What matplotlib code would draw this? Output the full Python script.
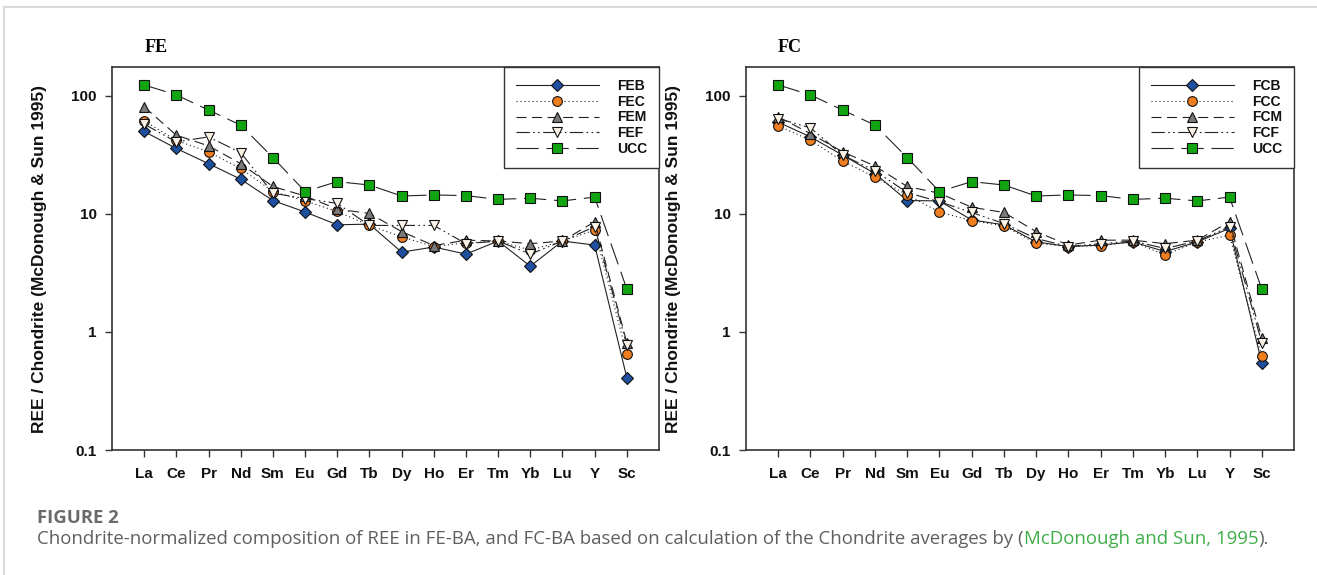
import matplotlib
matplotlib.use('Agg')
import matplotlib.pyplot as plt
from matplotlib.lines import Line2D
from matplotlib.ticker import NullLocator, FixedLocator, FixedFormatter

# ---------------- data ----------------
elements = ['La', 'Ce', 'Pr', 'Nd', 'Sm', 'Eu', 'Gd', 'Tb', 'Dy', 'Ho', 'Er', 'Tm', 'Yb', 'Lu', 'Y', 'Sc']

ucc = [124, 102, 76, 56.6, 30.1, 15.5, 18.8, 17.6, 14.2, 14.5, 14.3, 13.3, 13.6, 12.9, 13.9, 2.31]

# FE panel
feb = [50, 35.9, 26.7, 19.7, 13.0, 10.4, 8.1, 8.2, 4.75, 5.25, 4.57, 5.9, 3.61, 5.9, 5.45, 0.41]
fec = [61.5, 42, 33.6, 24.3, 15.5, 12.9, 10.5, 8.0, 6.4, 5.3, 5.7, 5.9, 4.94, 5.9, 7.3, 0.646]
fem = [81, 46.5, 37.8, 26.7, 17.1, 14.2, 11.0, 10.1, 7.1, 5.4, 6.0, 5.9, 5.6, 5.9, 8.6, 0.81]
fef = [57.7, 40.8, 45, 33.1, 15.0, 13.5, 12.3, 8.0, 8.0, 8.0, 5.6, 5.9, 4.57, 5.9, 7.8, 0.77]

# FC panel
fcb = [60, 45, 31.5, 22, 13.0, 12.9, 8.9, 8.1, 5.8, 5.3, 5.45, 5.8, 4.8, 5.8, 7.55, 0.545]
fcc = [55.8, 42.2, 28, 20.6, 14.5, 10.4, 8.8, 7.9, 5.65, 5.3, 5.4, 5.8, 4.5, 5.8, 6.6, 0.62]
fcm = [66.5, 48, 33.6, 25.5, 17.1, 15.0, 11.4, 10.3, 7.1, 5.45, 6.0, 6.0, 5.6, 6.0, 8.6, 0.895]
fcf = [64.4, 53.7, 31.5, 23.2, 15.2, 12.7, 10.3, 8.3, 6.2, 5.3, 5.6, 5.9, 5.1, 5.9, 7.8, 0.81]

fe_labels = ['FEB', 'FEC', 'FEM', 'FEF', 'UCC']
fc_labels = ['FCB', 'FCC', 'FCM', 'FCF', 'UCC']

yticks = [0.1, 1, 10, 100]
ytick_labels = ['0.1', '1', '10', '100']

# ---------------- styles ----------------
LW = 0.8
styles = [
    dict(marker='D', color='#1f4f9f', dashes=None, ms=6.5),
    dict(marker='o', color='#f07d1e', dashes=(1, 2.6), ms=7),
    dict(marker='^', color='#7a7a7a', dashes=(9, 5), ms=7.5),
    dict(marker='v', color='#fdf4e8', dashes=(12, 3, 1.5, 3, 1.5, 3), ms=7.5),
    dict(marker='s', color='#12a512', dashes=(20, 7), ms=6.5),
]

W, H = 1317, 575
fig = plt.figure(figsize=(W / 100, H / 100), dpi=100)
fig.patch.set_facecolor('white')


def rect(l, t, r, b):
    return [l / W, 1 - b / H, (r - l) / W, (b - t) / H]


tick_font = ['Liberation Sans', 'DejaVu Sans']


def draw_panel(ax, series, labels, title):
    xs = list(range(len(elements)))
    handles = []
    for vals, st, lab in zip(series, styles, labels):
        ln, = ax.plot(xs, vals, color='#222222', lw=LW, marker=st['marker'],
                      markersize=st['ms'], markerfacecolor=st['color'],
                      markeredgecolor='#111111', markeredgewidth=0.8,
                      label=lab)
        if st['dashes'] is not None:
            ln.set_dashes(st['dashes'])
        handles.append(ln)
    ax.set_yscale('log')
    ax.set_ylim(0.1, 176)
    ax.set_xlim(-1, 16)
    ax.yaxis.set_major_locator(FixedLocator(yticks))
    ax.yaxis.set_major_formatter(FixedFormatter(ytick_labels))
    ax.yaxis.set_minor_locator(NullLocator())
    ax.set_xticks(xs)
    ax.set_xticklabels(elements)
    for lab in ax.get_xticklabels() + ax.get_yticklabels():
        lab.set_family(tick_font)
        lab.set_fontweight('bold')
        lab.set_fontsize(11)
        lab.set_color('#111111')
    ax.tick_params(axis='both', which='major', direction='out', length=5,
                   width=1, color='#333333')
    ax.tick_params(axis='x', pad=7)
    ax.tick_params(axis='y', pad=6)
    for sp in ax.spines.values():
        sp.set_linewidth(1.2)
        sp.set_color('#333333')
    ax.set_ylabel('REE / Chondrite (McDonough & Sun 1995)', fontsize=12.5,
                  fontweight='bold', family=['Liberation Sans', 'DejaVu Sans'],
                  color='#111111')
    ax.yaxis.set_label_coords(-0.118, 0.5)
    ax.text(0.08, 1.05, title, transform=ax.transAxes, ha='center', va='center',
            fontsize=13, fontweight='bold', family=['Liberation Serif', 'DejaVu Serif'])
    leg = ax.legend(handles=handles, loc='upper right', bbox_to_anchor=(1, 1),
                    borderaxespad=0, frameon=True, fancybox=False,
                    handlelength=6.0, handletextpad=1.3, borderpad=0.85,
                    labelspacing=0.13, prop=dict(family=['Liberation Sans', 'DejaVu Sans'],
                                                  weight='bold', size=10))
    fr = leg.get_frame()
    fr.set_edgecolor('#333333')
    fr.set_linewidth(1.0)
    fr.set_alpha(1)
    for t in leg.get_texts():
        t.set_color('#111111')


ax1 = fig.add_axes(rect(112, 67, 659, 450))
ax2 = fig.add_axes(rect(746, 67, 1294, 450))
draw_panel(ax1, [feb, fec, fem, fef, ucc], fe_labels, 'FE')
draw_panel(ax2, [fcb, fcc, fcm, fcf, ucc], fc_labels, 'FC')

# frame lines of the figure page
fig.add_artist(Line2D([4 / W, 1], [1 - 7 / H, 1 - 7 / H], transform=fig.transFigure,
                      color='#d9d9d9', lw=1.5))
fig.add_artist(Line2D([4 / W, 4 / W], [0, 1 - 7 / H], transform=fig.transFigure,
                      color='#d9d9d9', lw=1.5))

# caption
cap_font = ['Open Sans', 'DejaVu Sans']
renderer = fig.canvas.get_renderer()
fig_t = fig.text(37 / W, 1 - 518 / H, 'FIGURE 2', ha='left', va='center',
                 color='#6a6a6a', fontsize=12, fontweight='bold', family=cap_font)
bb = fig_t.get_window_extent(renderer)
fig_t.set_fontsize(12 * 81 / bb.width)

parts = [('Chondrite-normalized composition of REE in FE-BA, and FC-BA based on calculation '
          'of the Chondrite averages by (', '#5f5f5f'),
         ('McDonough and Sun, 1995', '#3fae49'),
         (').', '#5f5f5f')]
fs0 = 12
texts = []
for s, c in parts:
    texts.append(fig.text(0, 1 - 539 / H, s, ha='left', va='center', color=c,
                          fontsize=fs0, family=cap_font))
total = sum(t.get_window_extent(renderer).width for t in texts)
fs = fs0 * 1222 / total
x = 37
for t in texts:
    t.set_fontsize(fs)
    t.set_x(x / W)
    x += t.get_window_extent(renderer).width

fig.savefig('out.png', dpi=100)
